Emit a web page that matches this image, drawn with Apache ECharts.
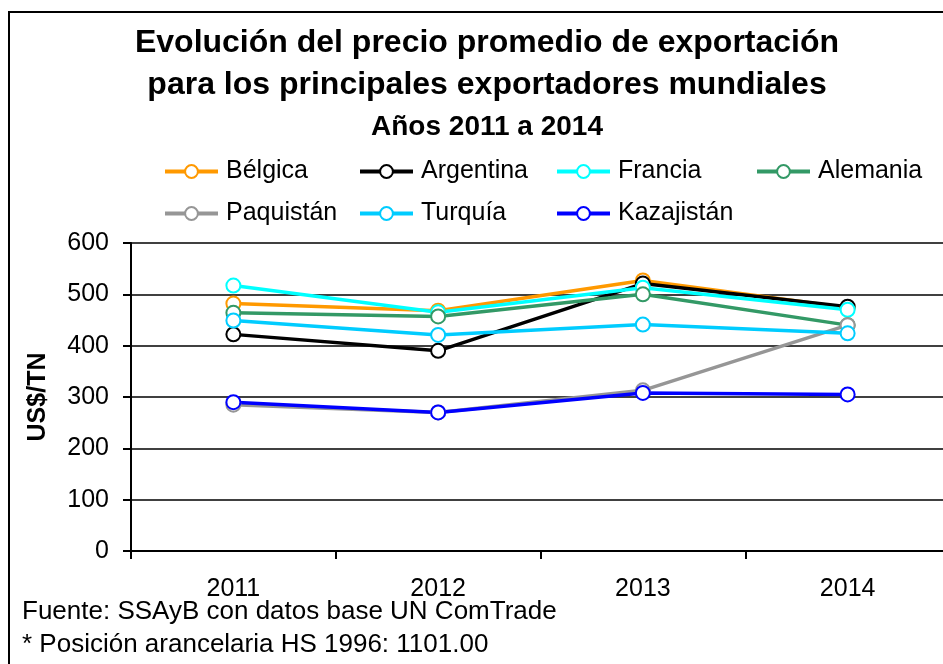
<!DOCTYPE html>
<html>
<head>
<meta charset="utf-8">
<script src="https://cdn.jsdelivr.net/npm/echarts@6/dist/echarts.min.js"></script>
<style>
  html, body { margin: 0; padding: 0; background: #fff; overflow: hidden; }
  #chart { width: 960px; height: 664px; }
</style>
</head>
<body>
<div id="chart"></div>
<script>
// datos
var years = ['2011', '2012', '2013', '2014'];
var paises = ['Bélgica', 'Argentina', 'Francia', 'Alemania', 'Paquistán', 'Turquía', 'Kazajistán'];
var colores = ['#FF9900', '#000000', '#00FFFF', '#339966', '#969696', '#00CCFF', '#0000FF'];
var belgica = [482, 468, 527, 474];
var argentina = [422, 390, 521, 476];
var francia = [517, 465, 513, 470];
var alemania = [464, 457, 500, 440];
var paquistan = [285, 270, 313, 440];
var turquia = [449, 421, 441, 424];
var kazajistan = [290, 270, 308, 305];
var valores = [belgica, argentina, francia, alemania, paquistan, turquia, kazajistan];

var font = 'Arial, "Liberation Sans", sans-serif';
var chart = echarts.init(document.getElementById('chart'));

// leyenda: posiciones de cada entrada (dos filas)
var legendPos = [
    [163, 172], [358, 172], [555, 172], [755, 172],
    [163, 214], [358, 214], [555, 214]
];
var legends = paises.map(function (p, i) {
    return {
        data: [p],
        left: legendPos[i][0],
        top: legendPos[i][1] - 13,
        itemWidth: 53,
        itemHeight: 16,
        padding: 0,
        selectedMode: false,
        lineStyle: { width: 4 },
        textStyle: { fontFamily: font, fontSize: 25, color: '#000', padding: [0, 0, 0, 3] }
    };
});

var series = paises.map(function (p, i) {
    return {
        name: p,
        type: 'line',
        data: valores[i],
        symbol: 'emptyCircle',
        symbolSize: 14,
        lineStyle: { color: colores[i], width: 3.5 },
        itemStyle: { color: colores[i], borderColor: colores[i], borderWidth: 2.5 },
        animation: false
    };
});

// el lienzo es algo más ancho que la ventana: el marco sigue fuera del borde derecho
var option = {
    backgroundColor: '#fff',
    legend: legends,
    grid: { left: 131, top: 243, width: 819, height: 308, containLabel: false },
    xAxis: {
        type: 'category',
        data: years,
        boundaryGap: true,
        axisLine: { lineStyle: { color: '#000', width: 2 } },
        axisTick: { show: true, length: 8, lineStyle: { color: '#000', width: 2 } },
        axisLabel: { margin: 26, fontFamily: font, fontSize: 25, color: '#000' },
        splitLine: { show: false }
    },
    yAxis: {
        type: 'value',
        min: 0,
        max: 600,
        interval: 100,
        name: 'US$/TN',
        nameLocation: 'middle',
        nameGap: 80,
        nameTextStyle: { fontFamily: font, fontSize: 25, fontWeight: 'bold', color: '#000' },
        axisLine: { show: true, lineStyle: { color: '#000', width: 2 } },
        axisTick: { show: true, length: 8, lineStyle: { color: '#000', width: 2 } },
        axisLabel: { margin: 22, fontFamily: font, fontSize: 25, color: '#000' },
        splitLine: { show: true, lineStyle: { color: '#000', width: 1.5 } }
    },
    series: series,
    graphic: [
        {
            type: 'rect',
            shape: { x: 9, y: 12, width: 1000, height: 700 },
            style: { fill: 'none', stroke: '#000', lineWidth: 2 },
            silent: true
        },
        {
            type: 'text', x: 487, y: 43,
            style: { text: 'Evolución del precio promedio de exportación', align: 'center', verticalAlign: 'middle',
                font: 'bold 32px ' + font, fill: '#000' }
        },
        {
            type: 'text', x: 487, y: 85,
            style: { text: 'para los principales exportadores mundiales', align: 'center', verticalAlign: 'middle',
                font: 'bold 32px ' + font, fill: '#000' }
        },
        {
            type: 'text', x: 487, y: 127,
            style: { text: 'Años 2011 a 2014', align: 'center', verticalAlign: 'middle',
                font: 'bold 28px ' + font, fill: '#000' }
        },
        {
            type: 'text', x: 22, y: 612,
            style: { text: 'Fuente: SSAyB con datos base UN ComTrade', verticalAlign: 'middle',
                font: '26px ' + font, fill: '#000' }
        },
        {
            type: 'text', x: 22, y: 645,
            style: { text: '* Posición arancelaria HS 1996: 1101.00', verticalAlign: 'middle',
                font: '26px ' + font, fill: '#000' }
        }
    ]
};
chart.setOption(option);
</script>
</body>
</html>
